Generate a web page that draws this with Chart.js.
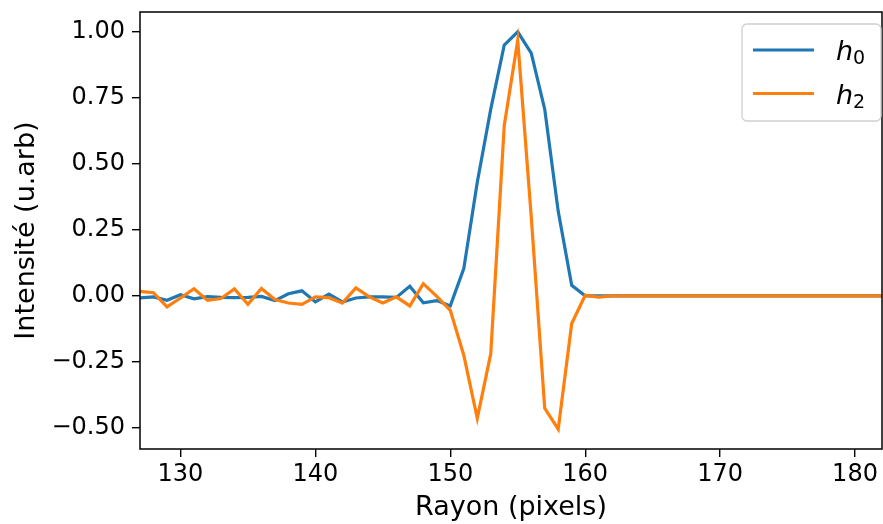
<!DOCTYPE html>
<html>
<head>
<meta charset="utf-8">
<script src="https://cdn.jsdelivr.net/npm/chart.js@4"></script>
<style>
  html, body { margin: 0; padding: 0; background: #fff; }
  #wrap { width: 883px; height: 524px; }
</style>
</head>
<body>
<div id="wrap"><canvas id="chart" width="883" height="524"></canvas></div>
<script>
// ─── Data ─────────────────────────────────────────────────────────────────────

const rayon = [127, 128, 129, 130, 131, 132, 133, 134, 135, 136, 137, 138, 139, 140,
  141, 142, 143, 144, 145, 146, 147, 148, 149, 150, 151, 152, 153, 154, 155, 156,
  157, 158, 159, 160, 161, 162, 163, 164, 165, 166, 167, 168, 169, 170, 171, 172,
  173, 174, 175, 176, 177, 178, 179, 180, 181, 182];

const h0 = [-0.008, -0.004, -0.017, 0.004, -0.011, -0.003, -0.006, -0.007, -0.006, -0.002,
  -0.018, 0.008, 0.019, -0.023, 0.007, -0.023, -0.008, -0.004, -0.004, -0.006,
  0.036, -0.026, -0.018, -0.038, 0.103, 0.43, 0.707, 0.95, 1.0, 0.919,
  0.707, 0.32, 0.04, 0.0, 0, 0, 0, 0, 0, 0, 0, 0, 0, 0, 0, 0, 0, 0, 0, 0, 0, 0, 0, 0, 0, 0];

const h2 = [0.017, 0.012, -0.042, -0.008, 0.027, -0.017, -0.010, 0.026, -0.032, 0.028,
  -0.014, -0.027, -0.032, -0.004, -0.007, -0.027, 0.030, -0.004, -0.027, -0.004,
  -0.038, 0.046, -0.002, -0.055, -0.225, -0.464, -0.219, 0.645, 0.968, 0.30,
  -0.426, -0.505, -0.105, 0.002, -0.005, 0, 0, 0, 0, 0, 0, 0, 0, 0, 0, 0, 0, 0, 0, 0, 0, 0, 0, 0, 0, 0];

const xTicks = [130, 140, 150, 160, 170, 180];
const yTicks = [-0.5, -0.25, 0, 0.25, 0.5, 0.75, 1.0];

const legendBase = ['h', 'h'];
const legendSub = ['0', '2'];
const colors = ['#1f77b4', '#ff7f0e'];

const FONT = "'DejaVu Sans', sans-serif";

// ─── Plugins ──────────────────────────────────────────────────────────────────

// matplotlib-like frame round the plot area
const frame = {
  id: 'frame',
  afterDatasetsDraw(chart) {
    const { ctx, chartArea: a } = chart;
    ctx.save();
    ctx.strokeStyle = '#000';
    ctx.lineWidth = 1.5;
    ctx.strokeRect(a.left, a.top, a.right - a.left, a.bottom - a.top);
    ctx.restore();
  },
};

// legend box in the upper right corner
const cornerLegend = {
  id: 'cornerLegend',
  afterDraw(chart) {
    const { ctx, chartArea: a } = chart;
    const w = 139, h = 97;
    const x = a.right - w - 1, y = a.top + 12;
    ctx.save();
    ctx.fillStyle = 'rgba(255,255,255,0.8)';
    ctx.strokeStyle = '#d0d0d0';
    ctx.lineWidth = 1.3;
    ctx.beginPath();
    ctx.roundRect(x, y, w, h, 5);
    ctx.fill();
    ctx.stroke();

    for (let i = 0; i < legendBase.length; i++) {
      const ly = y + 26 + i * 43.5;
      ctx.strokeStyle = colors[i];
      ctx.lineWidth = 3;
      ctx.beginPath();
      ctx.moveTo(x + 11, ly);
      ctx.lineTo(x + 72, ly);
      ctx.stroke();

      ctx.fillStyle = '#000';
      ctx.textBaseline = 'alphabetic';
      ctx.font = 'oblique 27px ' + FONT;
      ctx.fillText(legendBase[i], x + 94, ly + 10);
      const bw = ctx.measureText(legendBase[i]).width;
      ctx.font = '19px ' + FONT;
      ctx.fillText(legendSub[i], x + 94 + bw, ly + 14);
    }
    ctx.restore();
  },
};

// ─── Chart ────────────────────────────────────────────────────────────────────

function fmtY(v) {
  const s = Math.abs(v).toFixed(2);
  return v < 0 ? '\u2212' + s : s;
}

function initChart() {
  const ctx = document.getElementById('chart').getContext('2d');
  new Chart(ctx, {
    type: 'line',
    data: {
      labels: rayon,
      datasets: [
        {
          label: 'h0',
          data: rayon.map((r, i) => ({ x: r, y: h0[i] })),
          borderColor: colors[0],
          borderWidth: 3.2,
          pointRadius: 0,
          tension: 0,
          order: 1,
        },
        {
          label: 'h2',
          data: rayon.map((r, i) => ({ x: r, y: h2[i] })),
          borderColor: colors[1],
          borderWidth: 3.2,
          pointRadius: 0,
          tension: 0,
          order: 0,
        },
      ],
    },
    options: {
      responsive: false,
      animation: false,
      layout: { padding: { top: 12, right: 1, left: 0, bottom: 0 } },
      plugins: { legend: { display: false }, tooltip: { enabled: false } },
      scales: {
        x: {
          type: 'linear',
          min: 127,
          max: 182,
          afterBuildTicks: (axis) => { axis.ticks = xTicks.map((v) => ({ value: v })); },
          afterFit: (axis) => { axis.height = 75; axis.paddingLeft = 0; axis.paddingRight = 0; },
          grid: { display: true, drawOnChartArea: false, drawTicks: true, tickLength: 8, color: '#000', lineWidth: 1.4 },
          border: { display: false },
          ticks: { color: '#000', font: { family: FONT, size: 24 }, padding: 3, maxRotation: 0 },
          title: { display: true, text: 'Rayon (pixels)', color: '#000', font: { family: FONT, size: 27 }, padding: { top: 0, bottom: 0 } },
        },
        y: {
          type: 'linear',
          min: -0.58,
          max: 1.075,
          afterBuildTicks: (axis) => { axis.ticks = yTicks.map((v) => ({ value: v })); },
          afterFit: (axis) => { axis.width = 140; axis.paddingTop = 0; axis.paddingBottom = 0; },
          grid: { display: true, drawOnChartArea: false, drawTicks: true, tickLength: 8, color: '#000', lineWidth: 1.4 },
          border: { display: false },
          ticks: { color: '#000', font: { family: FONT, size: 24 }, padding: 7, callback: fmtY },
          title: { display: true, text: 'Intensité (u.arb)', color: '#000', font: { family: FONT, size: 27 }, padding: { top: 11, bottom: 1 } },
        },
      },
    },
    plugins: [frame, cornerLegend],
  });
}

document.addEventListener('DOMContentLoaded', initChart);
</script>
</body>
</html>
